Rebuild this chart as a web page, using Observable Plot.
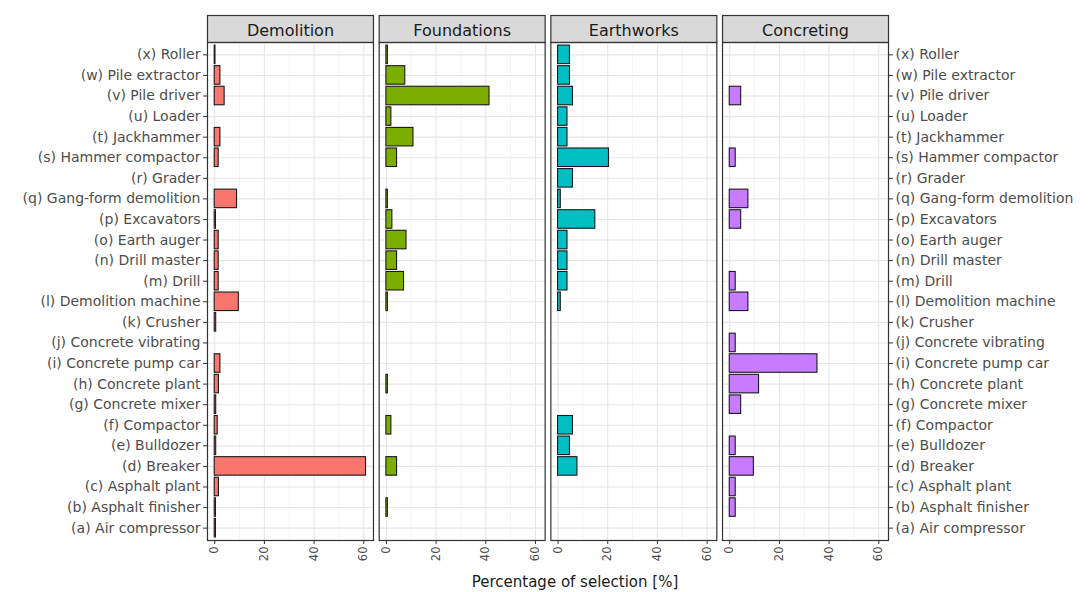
<!DOCTYPE html>
<html>
<head>
<meta charset="utf-8">
<script src="https://cdn.jsdelivr.net/npm/d3@7"></script>
<script src="https://cdn.jsdelivr.net/npm/@observablehq/plot@0.6"></script>
<style>
  body { margin: 0; background: #fff; font-family: "DejaVu Sans", sans-serif; }
  #chart svg { display: block; }
  #xtitle { width: 1030px; padding-left: 60px; text-align: center; font-size: 15px; line-height: 17px; color: #1a1a1a; margin-top: 6px; }
</style>
</head>
<body>
<div id="chart"></div>
<div id="xtitle">Percentage of selection [%]</div>
<script>
const machines = [
  "(a) Air compressor", "(b) Asphalt finisher", "(c) Asphalt plant", "(d) Breaker",
  "(e) Bulldozer", "(f) Compactor", "(g) Concrete mixer", "(h) Concrete plant",
  "(i) Concrete pump car", "(j) Concrete vibrating", "(k) Crusher", "(l) Demolition machine",
  "(m) Drill", "(n) Drill master", "(o) Earth auger", "(p) Excavators",
  "(q) Gang-form demolition", "(r) Grader", "(s) Hammer compactor", "(t) Jackhammer",
  "(u) Loader", "(v) Pile driver", "(w) Pile extractor", "(x) Roller"
];
const stages = ["Demolition", "Foundations", "Earthworks", "Concreting"];
const stageColors = ["#F8766D", "#7CAE00", "#00BFC4", "#C77CFF"];

// values in machine order (a) .. (x)
const demolition  = [0.5, 0.5, 1.7, 60.9, 0.6, 1.2, 0.6, 1.7, 2.3, 0, 0.6, 9.7, 1.6, 1.6, 1.6, 0.5, 9.0, 0, 1.6, 2.3, 0, 4.0, 2.3, 0.3];
const foundations = [0, 0.6, 0, 4.3, 0, 2.0, 0, 0.6, 0, 0, 0, 0.6, 7.1, 4.3, 8.1, 2.4, 0.6, 0, 4.3, 10.9, 2.0, 41.5, 7.6, 0.6];
const earthworks  = [0, 0, 0, 7.8, 4.8, 6.0, 0, 0, 0, 0, 0, 1.1, 3.8, 3.8, 3.8, 15.0, 1.1, 6.0, 20.5, 3.8, 3.8, 6.0, 4.8, 4.8];
const concreting  = [0, 2.4, 2.4, 9.7, 2.4, 0, 4.6, 11.8, 35.3, 2.4, 0, 7.5, 2.4, 0, 0, 4.6, 7.5, 0, 2.4, 0, 0, 4.6, 0, 0];

const xTicks = [0, 20, 40, 60];
const xMinorTicks = [10, 30, 50];

const series = [demolition, foundations, earthworks, concreting];
const data = [];
stages.forEach((s, i) => machines.forEach((m, j) => data.push({stage: s, machine: m, value: series[i][j]})));

const yOrder = machines.slice().reverse();

const chart = Plot.plot({
  width: 1090,
  height: 568,
  marginLeft: 207,
  marginRight: 202,
  marginTop: 42,
  marginBottom: 28,
  style: { fontFamily: "DejaVu Sans, sans-serif", background: "#fff" },
  fx: { domain: stages, paddingInner: 0.0333, paddingOuter: 0, round: false, label: null },
  x: { domain: [-2.9, 63.9], label: null },
  y: { domain: yOrder, paddingInner: 0.1, paddingOuter: 0.15, round: false, label: null },
  color: { domain: stages, range: stageColors },
  marks: [
    Plot.gridX(xMinorTicks, { stroke: "#f0f0f0", strokeOpacity: 1, strokeWidth: 0.8 }),
    Plot.gridX(xTicks, { stroke: "#e6e6e6", strokeOpacity: 1, strokeWidth: 1.1 }),
    Plot.gridY(yOrder, { stroke: "#e6e6e6", strokeOpacity: 1, strokeWidth: 1.1 }),
    Plot.ruleX(data, { fx: "stage", y: "machine", x: 0, stroke: "#1a1a1a", strokeWidth: 1.1 }),
    Plot.barX(data, { fx: "stage", y: "machine", x: "value", fill: "stage", stroke: "#1a1a1a", strokeWidth: 1.1 }),
    Plot.frame({ stroke: "#333", strokeWidth: 1.2 }),
    Plot.axisX(xTicks, { anchor: "bottom", tickSize: 4, tickPadding: 2, tickRotate: -90, fontSize: 11.5, stroke: "#333", fill: "#4d4d4d", label: null }),
    Plot.axisY({ anchor: "left", tickSize: 4, tickPadding: 3, fontSize: 14, stroke: "#333", fill: "#4d4d4d", label: null }),
    Plot.axisY({ anchor: "right", tickSize: 4, tickPadding: 3, fontSize: 14, stroke: "#333", fill: "#4d4d4d", label: null }),
    Plot.axisFx({ anchor: "top", tickSize: 0, tickPadding: 7, fontSize: 16, fill: "#1a1a1a", label: null })
  ]
});
document.getElementById("chart").appendChild(chart);

// strip header boxes above each facet frame, based on the frames Plot drew
const svgBox = chart.getBoundingClientRect();
const frames = chart.querySelectorAll('g[aria-label="frame"] rect');
const firstG = chart.querySelector("g");
frames.forEach(r => {
  const b = r.getBoundingClientRect();
  const hdr = document.createElementNS("http://www.w3.org/2000/svg", "rect");
  hdr.setAttribute("x", b.left - svgBox.left);
  hdr.setAttribute("y", b.top - svgBox.top - 27);
  hdr.setAttribute("width", b.width);
  hdr.setAttribute("height", 27);
  hdr.setAttribute("fill", "#d9d9d9");
  hdr.setAttribute("stroke", "#333");
  hdr.setAttribute("stroke-width", 1.2);
  chart.insertBefore(hdr, firstG);
});
</script>
</body>
</html>
